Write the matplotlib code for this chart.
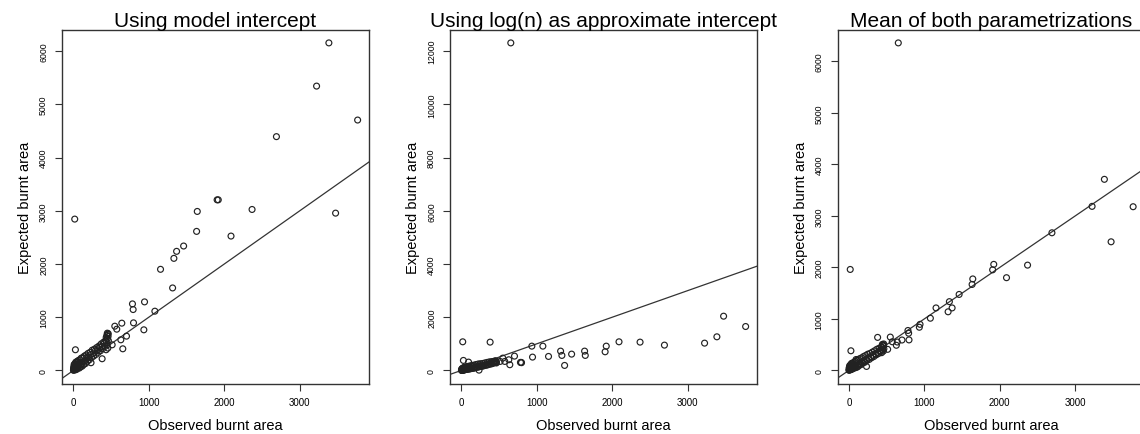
import matplotlib
matplotlib.use("Agg")
import matplotlib.pyplot as plt

plt.rcParams['font.family'] = ['Liberation Sans', 'DejaVu Sans']

# observed burnt area (same for all three panels)
observed = [3386, 3223, 3767, 2691, 2368, 3475, 1642, 1920, 1905, 1633,
            2089, 18, 1461, 1368, 1332, 1155, 1315, 1080, 943, 783,
            792, 934, 797, 642, 549, 575, 629, 704, 655, 514,
            434, 381, 27, 234, 95,
            1, 3, 5, 6, 8, 10, 12, 14, 16, 19, 21, 24, 27, 30, 33, 36, 40, 44,
            48, 52, 56, 60, 65, 70, 75, 80, 86, 92, 98, 104, 110, 117, 124,
            131, 138, 146, 154, 162, 170, 178, 186, 195, 204, 213, 222, 231,
            240, 250, 260, 270, 280, 290, 300, 310, 320, 330, 340, 350, 360,
            370, 380, 390, 400, 410, 420, 428, 435, 440, 444, 448, 450, 452,
            455, 457, 460, 462, 464]

# expected burnt area, model intercept
expected_model = [6156, 5344, 4706, 4394, 3025, 2956, 2988, 3206, 3206, 2613,
                  2525, 2844, 2338, 2238, 2106, 1900, 1550, 1113, 1288, 1250,
                  1144, 763, 894, 888, 831, 775, 575, 644, 406, 481,
                  388, 219, 388, 144, 110,
                  5, 40, 3, 70, 20, 110, 25, 60, 18, 120, 30, 85, 10, 150, 35, 70, 160, 20,
                  90, 170, 40, 150, 60, 190, 130, 45, 200, 110, 70, 230, 125, 80, 240,
                  160, 110, 270, 180, 130, 290, 240, 170, 320, 245, 200, 340, 300,
                  240, 380, 315, 270, 400, 365, 300, 430, 385, 340, 460, 430, 370,
                  500, 450, 410, 530, 510, 450, 560, 620, 520, 660, 480, 700, 600,
                  680, 420, 640, 690, 560]

# expected burnt area, log(n) as intercept
expected_logn = [1263, 1025, 1650, 950, 1063, 2038, 563, 912, 700, 725,
                 1075, 1075, 612, 187, 563, 525, 725, 912, 500, 300,
                 300, 912, 290, 213, 462, 337, 400, 537, 12312, 337,
                 300, 1063, 375, 10, 312,
                 2, 30, 6, 50, 5, 70, 6, 40, 14, 80, 11, 60, 18, 100, 22, 15, 120, 30,
                 25, 110, 35, 70, 40, 130, 55, 50, 150, 60, 45, 160, 80, 60, 170,
                 70, 85, 190, 80, 95, 200, 90, 115, 220, 130, 120, 240, 130,
                 150, 250, 165, 155, 260, 165, 190, 280, 200, 195, 300, 210, 230,
                 320, 245, 240, 330, 255, 275, 340, 290, 300, 350, 310, 295, 360,
                 300, 330, 310, 335, 280]

# expected burnt area, mean of both
expected_mean = [3710, 3185, 3178, 2672, 2044, 2497, 1776, 2059, 1953, 1669,
                 1800, 1960, 1475, 1213, 1335, 1213, 1138, 1013, 894, 775,
                 722, 838, 592, 551, 647, 556, 488, 590, 6359, 409,
                 344, 641, 381, 77, 211,
                 4, 35, 5, 60, 13, 90, 16, 50, 16, 100, 21, 73, 14, 125, 29, 43, 140, 25,
                 58, 140, 38, 110, 50, 160, 93, 48, 175, 85, 58, 195, 103, 70, 205,
                 115, 98, 230, 130, 113, 245, 165, 143, 270, 188, 160, 290, 215,
                 195, 315, 240, 213, 330, 265, 245, 355, 293, 268, 380, 320, 300,
                 410, 348, 325, 430, 383, 363, 450, 455, 410, 505, 395, 498, 480,
                 490, 375, 475, 513, 420]

titles = ["Using model intercept",
          "Using log(n) as approximate intercept",
          "Mean of both parametrizations"]
series = [expected_model, expected_logn, expected_mean]
yticks = [[0, 1000, 2000, 3000, 4000, 5000, 6000],
          [0, 2000, 4000, 6000, 8000, 10000, 12000],
          [0, 1000, 2000, 3000, 4000, 5000, 6000]]
xticks = [0, 1000, 2000, 3000]

W, H = 1140, 435
fig = plt.figure(figsize=(W / 100, H / 100), dpi=100)

lefts = [62, 450, 837.5]
for i in range(3):
    ax = fig.add_axes([lefts[i] / W, (H - 384.5) / H, 307 / W, (384.5 - 30.8) / H])
    ax.scatter(observed, series[i], s=18, facecolors='none', edgecolors='#222222',
               linewidths=0.85, zorder=3)
    ax.margins(0.04)
    ax.axline((0, 0), slope=1, color='#333333', lw=0.9)

    ax.set_xticks(xticks)
    ax.set_yticks(yticks[i])
    ax.tick_params(axis='both', length=5, width=0.8, color='#333333', pad=5)
    ax.tick_params(axis='x', labelsize=7)
    ax.tick_params(axis='y', labelsize=6.3)
    for lab in ax.get_yticklabels():
        lab.set_rotation(90)
        lab.set_va('center')
    for sp in ax.spines.values():
        sp.set_color('#333333')
        sp.set_linewidth(1)

    ax.set_title(titles[i], fontsize=15, pad=3)
    ax.set_xlabel("Observed burnt area", fontsize=10.5, labelpad=8)
    ax.set_ylabel("Expected burnt area", fontsize=10.5, labelpad=5)

fig.savefig("out.png", dpi=100)
